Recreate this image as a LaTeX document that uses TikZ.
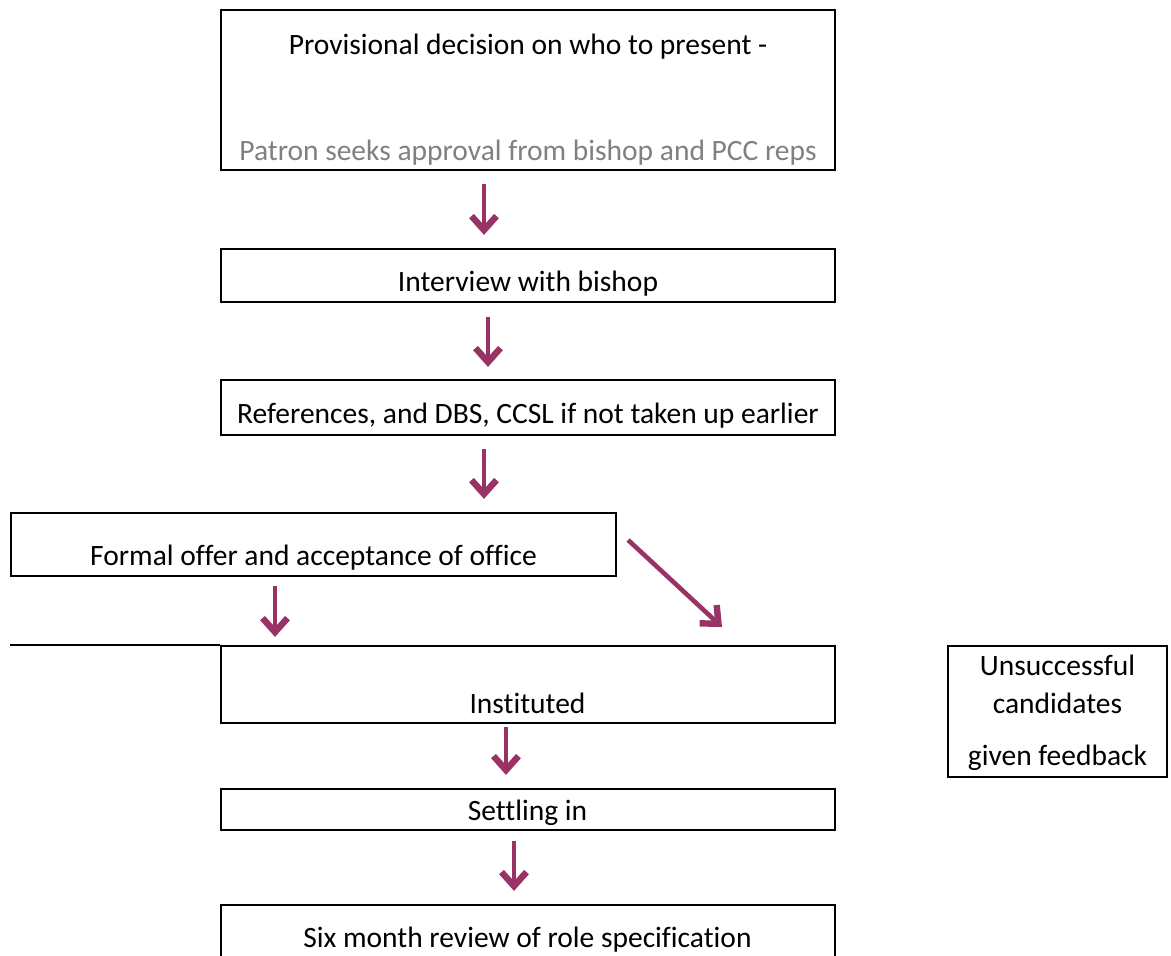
\documentclass[tikz,border=0pt]{standalone}
\usepackage{fontspec}
\setmainfont{Carlito}[Ligatures=NoCommon]
\usetikzlibrary{arrows.meta}
\definecolor{plum}{RGB}{153,51,102}
\definecolor{greytext}{RGB}{128,128,128}

\begin{document}
\begin{tikzpicture}[x=1pt,y=-1pt,line width=2.2pt,
  box/.style={draw,rectangle,inner sep=0pt},
  txt/.style={anchor=base,inner sep=0pt,font=\fontsize{29.5}{35}\selectfont},
  flow/.style={draw=plum,line width=4.6pt,-{Straight Barb[length=14pt,width=25pt,line width=+0pt 1.4]}}]
  \useasboundingbox (0,0) rectangle (1171,956);

  % boxes
  \node[box,minimum width=614pt,minimum height=160pt] (1) at (528,90) {};
  \node[box,minimum width=614pt,minimum height=53pt] (2) at (528,275.5) {};
  \node[box,minimum width=614pt,minimum height=55pt] (3) at (528,407.5) {};
  \node[box,minimum width=605pt,minimum height=63pt] (4) at (313.5,544.5) {};
  \node[box,minimum width=614pt,minimum height=77pt] (5) at (528,684.5) {};
  \node[box,minimum width=219pt,minimum height=131pt] (6) at (1057.5,711.5) {};
  \node[box,minimum width=614pt,minimum height=41pt] (7) at (528,809.5) {};
  \node[box,minimum width=614pt,minimum height=65pt] (8) at (528,937.5) {};
  \draw (5.north west) -- (4.west |- 5.north);

  % texts
  \node[txt] (1a) at (528,54) {Provisional decision on who to present -};
  \node[txt,text=greytext] (1b) at (528,160) {Patron seeks approval from bishop and PCC reps};
  \node[txt] (2a) at (528,291) {Interview with bishop};
  \node[txt] (3a) at (528,423) {References, and DBS, CCSL if not taken up earlier};
  \node[txt] (4a) at (313.5,565) {Formal offer and acceptance of office};
  \node[txt] (5a) at (527.5,713) {Instituted};
  \node[txt] (6a) at (1057.5,675) {Unsuccessful};
  \node[txt] (6b) at (1057.5,713) {candidates};
  \node[txt] (6c) at (1057.5,765) {given feedback};
  \node[txt] (7a) at (527.5,820) {Settling in};
  \node[txt] (8a) at (527.5,947) {Six month review of role specification};

  % arrows
  \coordinate (fb) at (722,627);
  \draw[flow,shorten <=13pt,shorten >=13pt] ([xshift=-44pt]1.south) -- ([xshift=-44pt]2.north);
  \draw[flow,shorten <=14pt,shorten >=12pt] ([xshift=-40pt]2.south) -- ([xshift=-40pt]3.north);
  \draw[flow,shorten <=13pt,shorten >=13pt] ([xshift=-44pt]3.south) -- ([xshift=-44pt]3.south |- 4.north);
  \draw[flow,shorten <=9pt,shorten >=8pt] ([xshift=-38.5pt]4.south) -- ([xshift=-38.5pt]4.south |- 5.north);
  \draw[flow] ([xshift=11pt,yshift=4.5pt]4.east) -- (fb);
  \draw[flow,shorten <=3pt,shorten >=13pt] ([xshift=-22pt]5.south) -- ([xshift=-22pt]7.north);
  \draw[flow,shorten <=10pt,shorten >=13pt] ([xshift=-14pt]7.south) -- ([xshift=-14pt]8.north);
\end{tikzpicture}
\end{document}
